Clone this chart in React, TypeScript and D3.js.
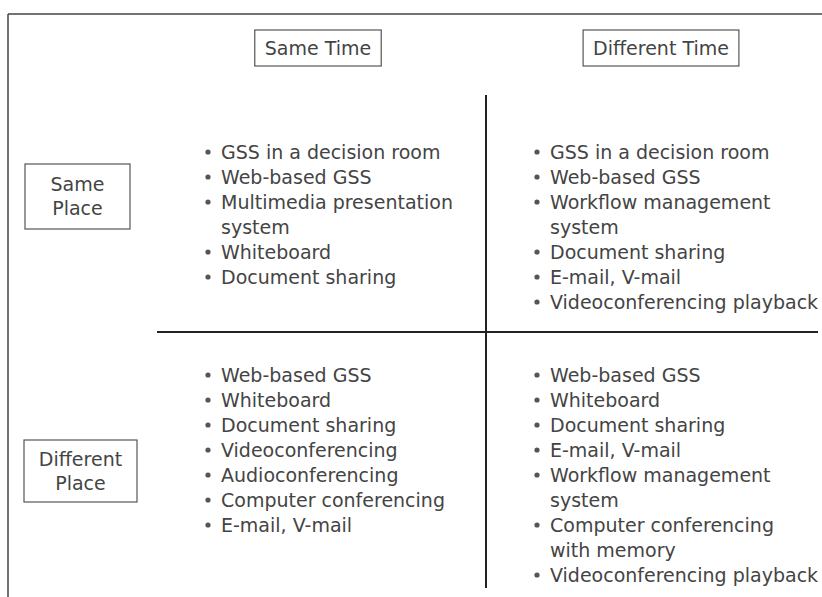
import { useEffect, useRef } from 'react';
import * as d3 from 'd3';

// column / row headers
const columns = ['Same Time', 'Different Time'];
const places = [['Same', 'Place'], ['Different', 'Place']];

// quadrant contents ("|" marks a wrapped line)
const sameTimeSamePlace = [
    'GSS in a decision room',
    'Web-based GSS',
    'Multimedia presentation|system',
    'Whiteboard',
    'Document sharing',
];
const diffTimeSamePlace = [
    'GSS in a decision room',
    'Web-based GSS',
    'Workflow management|system',
    'Document sharing',
    'E-mail, V-mail',
    'Videoconferencing playback',
];
const sameTimeDiffPlace = [
    'Web-based GSS',
    'Whiteboard',
    'Document sharing',
    'Videoconferencing',
    'Audioconferencing',
    'Computer conferencing',
    'E-mail, V-mail',
];
const diffTimeDiffPlace = [
    'Web-based GSS',
    'Whiteboard',
    'Document sharing',
    'E-mail, V-mail',
    'Workflow management|system',
    'Computer conferencing|with memory',
    'Videoconferencing playback',
];

const FONT = '"DejaVu Sans", sans-serif';
const INK = '#444';

const App = () => {
    const svgRef = useRef(null);

    useEffect(() => {
        const svg = d3.select(svgRef.current);
        svg.selectAll('*').remove();

        const width = 822;
        const height = 597;

        // x positions for the two columns (bullet x)
        const colX = d3.scaleOrdinal().domain(columns).range([208, 537]);
        const headerX = d3.scaleOrdinal().domain(columns).range([318, 661]);
        // first text row for each place band
        const bandTop = d3.scaleOrdinal().domain(['0', '1']).range([152, 375]);
        const rowStep = 25;

        // frame lines
        svg.append('line').attr('x1', 8).attr('x2', width).attr('y1', 14).attr('y2', 14)
            .attr('stroke', '#444').attr('stroke-width', 1.5);
        svg.append('line').attr('x1', 8).attr('x2', 8).attr('y1', 14).attr('y2', height)
            .attr('stroke', '#444').attr('stroke-width', 1.5);

        // dividers
        svg.append('line').attr('x1', 157).attr('x2', 818).attr('y1', 332).attr('y2', 332)
            .attr('stroke', '#222').attr('stroke-width', 2);
        svg.append('line').attr('x1', 486).attr('x2', 486).attr('y1', 95).attr('y2', 588)
            .attr('stroke', '#222').attr('stroke-width', 2);

        // column header boxes
        const hdr = svg.selectAll('.col-head').data(columns).enter().append('g').attr('class', 'col-head');
        hdr.append('text')
            .attr('x', d => headerX(d))
            .attr('y', 48)
            .attr('dy', '0.35em')
            .attr('text-anchor', 'middle')
            .style('font-family', FONT)
            .style('font-size', '19px')
            .attr('fill', INK)
            .text(d => d);
        hdr.each(function () {
            const g = d3.select(this);
            const bb = g.select('text').node().getBBox();
            g.insert('rect', 'text')
                .attr('x', bb.x - 10).attr('y', 30)
                .attr('width', bb.width + 20).attr('height', 36)
                .attr('fill', 'white').attr('stroke', '#555').attr('stroke-width', 1.2);
        });

        // row header boxes
        const rowBoxes = [
            { x: 25, y: 164, w: 105, h: 65 },
            { x: 24, y: 440, w: 113, h: 62 },
        ];
        places.forEach((lines, i) => {
            const b = rowBoxes[i];
            const g = svg.append('g');
            g.append('rect').attr('x', b.x).attr('y', b.y).attr('width', b.w).attr('height', b.h)
                .attr('fill', 'white').attr('stroke', '#555').attr('stroke-width', 1.2);
            const cy = b.y + b.h / 2;
            lines.forEach((t, j) => {
                g.append('text')
                    .attr('x', b.x + b.w / 2)
                    .attr('y', cy + (j - 0.5) * 24)
                    .attr('dy', '0.35em')
                    .attr('text-anchor', 'middle')
                    .style('font-family', FONT)
                    .style('font-size', '19px')
                    .attr('fill', INK)
                    .text(t);
            });
        });

        // quadrant lists
        const quads = [
            { col: columns[0], band: '0', items: sameTimeSamePlace },
            { col: columns[1], band: '0', items: diffTimeSamePlace },
            { col: columns[0], band: '1', items: sameTimeDiffPlace },
            { col: columns[1], band: '1', items: diffTimeDiffPlace },
        ];
        quads.forEach(q => {
            const rowY = d3.scaleLinear().domain([0, 1]).range([bandTop(q.band), bandTop(q.band) + rowStep]);
            const bx = colX(q.col);
            let row = 0;
            const g = svg.append('g');
            q.items.forEach(item => {
                const parts = item.split('|');
                g.append('circle').attr('cx', bx).attr('cy', rowY(row)).attr('r', 2.6).attr('fill', '#555');
                parts.forEach(p => {
                    g.append('text')
                        .attr('x', bx + 13)
                        .attr('y', rowY(row))
                        .attr('dy', '0.35em')
                        .style('font-family', FONT)
                        .style('font-size', '19px')
                        .attr('fill', INK)
                        .text(p);
                    row += 1;
                });
            });
        });
    }, []);

    return (
        <svg ref={svgRef} width={822} height={597}
            style={{ position: 'absolute', left: 0, top: 0, background: 'white' }}></svg>
    );
};

export default App;
